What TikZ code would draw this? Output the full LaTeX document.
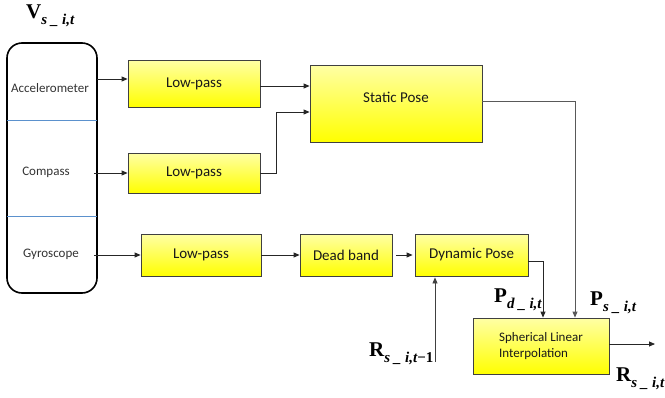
\documentclass[tikz,border=0pt]{standalone}
\usepackage{fontspec}
\setmainfont{Carlito}
\newfontfamily\tnr{Liberation Serif}
\usetikzlibrary{arrows.meta}
\definecolor{ylight}{RGB}{255,255,165}
\definecolor{yfull}{RGB}{255,255,0}
\definecolor{divblue}{RGB}{91,145,205}
\newcommand\mlab[2]{{\tnr\bfseries\fontsize{21}{21}\selectfont #1\raisebox{-6pt}{\fontsize{15}{15}\selectfont\itshape #2}}}
\begin{document}
\begin{tikzpicture}[x=1pt,y=-1pt,
  box/.style={draw=black!75, line width=0.8pt, top color=ylight, bottom color=yfull,
    inner sep=0pt, font=\fontsize{15}{18}\selectfont, text=black!90},
  slab/.style={font=\fontsize{13}{15}\selectfont, text=black!80, inner sep=0pt},
  arr/.style={-{Triangle[length=6pt,width=5pt]}, line width=0.8pt, draw=black!85},
  mlabel/.style={anchor=base west, inner sep=0pt}]
\useasboundingbox (0,0) rectangle (665,397);

% sensor block
\node[draw, line width=1.6pt, rounded corners=15pt, minimum width=90pt, minimum height=250pt, inner sep=0pt] (sens) at (52,168) {};
\coordinate (d1) at (0,120);
\coordinate (d2) at (0,216);
\draw[divblue, line width=0.8pt] ([xshift=0.8pt]sens.west |- d1) -- ([xshift=-0.8pt]sens.east |- d1);
\draw[divblue, line width=0.8pt] ([xshift=0.8pt]sens.west |- d2) -- ([xshift=-0.8pt]sens.east |- d2);
\node[slab] (acc) at (50,88) {Accelerometer};
\node[slab] (comp) at (46,172) {Compass};
\node[slab] (gyro) at (51,254) {Gyroscope};

% boxes
\node[box, minimum width=132pt, minimum height=47pt] (lp1) at (194,83.5) {Low-pass};
\node[box, minimum width=132pt, minimum height=40pt] (lp2) at (194,173) {Low-pass};
\node[box, minimum width=172pt, minimum height=77pt] (sp) at (396,103.5) {};
\node[font=\fontsize{15}{18}\selectfont, text=black!90, inner sep=0pt] (sptxt) at (396,97) {Static Pose};
\node[box, minimum width=120pt, minimum height=42pt] (lp3) at (201,255) {Low-pass};
\node[box, minimum width=92pt, minimum height=42pt] (db) at (346,255) {Dead band};
\node[box, minimum width=113pt, minimum height=42pt] (dp) at (471.5,255) {Dynamic Pose};
\node[box, minimum width=136pt, minimum height=56pt, align=left, font=\fontsize{13}{16}\selectfont] (sli) at (541,346) {Spherical Linear\\Interpolation};

% coordinates
\coordinate (s1) at (97,79);
\coordinate (s2) at (94,173);
\coordinate (s3) at (94,255);
\coordinate (y86) at (0,86);
\coordinate (b1) at (276,173);
\coordinate (y112) at (0,112);
\coordinate (y101) at (0,101);
\coordinate (x575) at (575,0);
\coordinate (y261) at (0,261);
\coordinate (x543) at (543,0);
\coordinate (rt1) at (435,362);
\coordinate (out) at (655,344);

% connectors
\draw[arr] (s1) -- (s1 -| lp1.west);
\draw[arr] (s2) -- (lp2.west);
\draw[arr] (s3) -- (lp3.west);
\draw[arr] (lp1.east |- y86) -- (sp.west |- y86);
\draw[arr] (lp2.east) -- (b1) |- (sp.west |- y112);
\draw[arr, draw=black!65] (sp.east |- y101) -| (sli.north -| x575);
\draw[arr] (lp3.east) -- (db.west);
\draw[arr, shorten <=4pt, shorten >=2pt] (db.east) -- (dp.west);
\draw[arr] (dp.east |- y261) -| (sli.north -| x543);
\draw[arr, draw=black!75, shorten >=1pt] (rt1) -- (rt1 |- dp.south);
\draw[arr] (sli.east |- out) -- (out);

% math labels
\node[mlabel] (lv) at (26,18) {\mlab{V}{s \_ i,t}};
\node[mlabel] (lr1) at (369,356) {\mlab{R}{s \_ i,t{\upshape −1}}};
\node[mlabel] (lpd) at (494,302) {\mlab{P}{d \_ i,t}};
\node[mlabel] (lps) at (590,305) {\mlab{P}{s \_ i,t}};
\node[mlabel] (lro) at (616,381) {\mlab{R}{s \_ i,t}};
\end{tikzpicture}
\end{document}
